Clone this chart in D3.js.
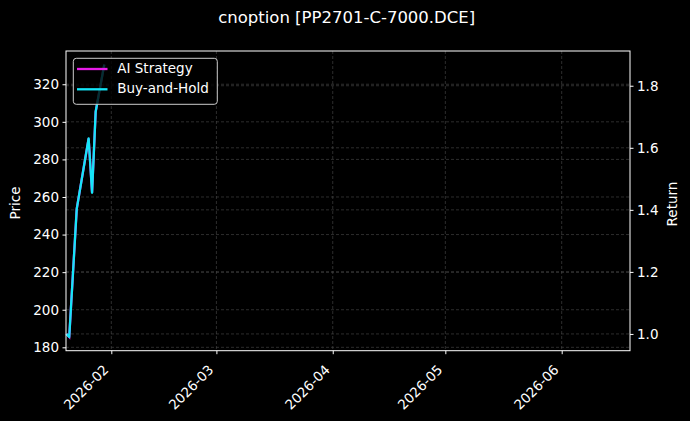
<!DOCTYPE html>
<html><head><meta charset="utf-8">
<script src="https://cdn.jsdelivr.net/npm/d3@7"></script>
<style>html,body{margin:0;padding:0;background:#000;}svg{display:block;font-family:"DejaVu Sans",sans-serif;}</style>
</head><body>
<svg id="c" width="690" height="421"></svg>
<script>
const titleText = "cnoption [PP2701-C-7000.DCE]";
const dates = ["2026-01-20T01:00","2026-01-20T19:00","2026-01-22T19:00","2026-01-25T23:00","2026-01-26T21:00","2026-01-27T20:00","2026-01-30T03:00"];
const buyHold = [1.0, 0.99, 1.403, 1.630, 1.455, 1.716, 1.868];
const aiStrategy = [1.0, 0.99, 1.403, 1.630, 1.455, 1.716, 1.868];
const priceTicks = [180, 200, 220, 240, 260, 280, 300, 320];
const returnTicks = [1.0, 1.2, 1.4, 1.6, 1.8];
const dateTicks = ["2026-02-01","2026-03-01","2026-04-01","2026-05-01","2026-06-01"];
const priceLim = [178.2, 337.7];
const returnLim = [0.946, 1.912];
const timeLim = ["2026-01-19T22:20","2026-06-19T04:48"];
const seriesNames = ["AI Strategy","Buy-and-Hold"];
const seriesColors = ["#e81ce8","#14e6f8"];

const parse = d3.isoParse;
const L = 66, R = 630, T = 51, B = 350.7;
const FS = "13.5px";
const svg = d3.select("#c");
svg.append("rect").attr("width",690).attr("height",421).attr("fill","#000");

const x = d3.scaleTime().domain(timeLim.map(parse)).range([L,R]);
const yP = d3.scaleLinear().domain(priceLim).range([B,T]);
const yR = d3.scaleLinear().domain(returnLim).range([B,T]);

const grid = svg.append("g").attr("stroke","#4c4c4c").attr("stroke-width",0.6).attr("stroke-dasharray","3,2");
dateTicks.forEach(d=>grid.append("line").attr("x1",x(parse(d))).attr("x2",x(parse(d))).attr("y1",T).attr("y2",B));
priceTicks.forEach(v=>grid.append("line").attr("x1",L).attr("x2",R).attr("y1",yP(v)).attr("y2",yP(v)));
returnTicks.forEach(v=>grid.append("line").attr("x1",L).attr("x2",R).attr("y1",yR(v)).attr("y2",yR(v)));

const line = d3.line().x((d,i)=>x(parse(dates[i]))).y(d=>yR(d));
svg.append("path").datum(aiStrategy).attr("d",line).attr("fill","none").attr("stroke",seriesColors[0]).attr("stroke-width",2.3);
svg.append("path").datum(buyHold).attr("d",line).attr("fill","none").attr("stroke",seriesColors[1]).attr("stroke-width",2.3).attr("stroke-linejoin","round");

function style(g){
  g.selectAll(".domain").remove();
  g.selectAll(".tick line").attr("stroke","#fff").attr("stroke-width",1);
  g.selectAll(".tick text").attr("fill","#fff").style("font-size",FS).style("font-family","DejaVu Sans");
}
const gl = svg.append("g").attr("transform",`translate(${L},0)`)
  .call(d3.axisLeft(yP).tickValues(priceTicks).tickSize(3.5).tickPadding(3.5).tickFormat(d3.format("d")));
style(gl);
const gr = svg.append("g").attr("transform",`translate(${R},0)`)
  .call(d3.axisRight(yR).tickValues(returnTicks).tickSize(3.5).tickPadding(3.5).tickFormat(d3.format(".1f")));
style(gr);
const gx = svg.append("g").attr("transform",`translate(0,${B})`)
  .call(d3.axisBottom(x).tickValues(dateTicks.map(parse)).tickSize(3.5).tickFormat(d3.timeFormat("%Y-%m")));
style(gx);
gx.selectAll(".tick text").attr("text-anchor","end").attr("dy",null).attr("y",0)
  .attr("transform","translate(-2.5,20) rotate(-45)");

svg.append("rect").attr("x",L).attr("y",T).attr("width",R-L).attr("height",B-T)
  .attr("fill","none").attr("stroke","#fff").attr("stroke-width",1);

svg.append("text").attr("x",16).attr("y",203).attr("transform","rotate(-90,16,203)")
  .attr("text-anchor","middle").attr("dominant-baseline","middle").attr("fill","#fff").style("font-size",FS).text("Price");
svg.append("text").attr("x",673).attr("y",204).attr("transform","rotate(-90,673,204)")
  .attr("text-anchor","middle").attr("dominant-baseline","middle").attr("fill","#fff").style("font-size",FS).text("Return");

svg.append("text").attr("x",346.7).attr("y",23).attr("text-anchor","middle").attr("fill","#fff")
  .style("font-size","16.5px").text(titleText);

const lg = svg.append("g");
lg.append("rect").attr("x",73.3).attr("y",58.3).attr("width",144).attr("height",46).attr("rx",3)
  .attr("fill","#000").attr("fill-opacity",0.8).attr("stroke","#cccccc").attr("stroke-width",1);
seriesNames.forEach((n,i)=>{
  const yy = 69 + i*20.3;
  lg.append("line").attr("x1",77).attr("x2",107.5).attr("y1",yy).attr("y2",yy).attr("stroke",seriesColors[i]).attr("stroke-width",2.3);
  lg.append("text").attr("x",117.3).attr("y",yy).attr("dominant-baseline","middle").attr("fill","#fff").style("font-size",FS).text(n);
});
</script>
</body></html>
